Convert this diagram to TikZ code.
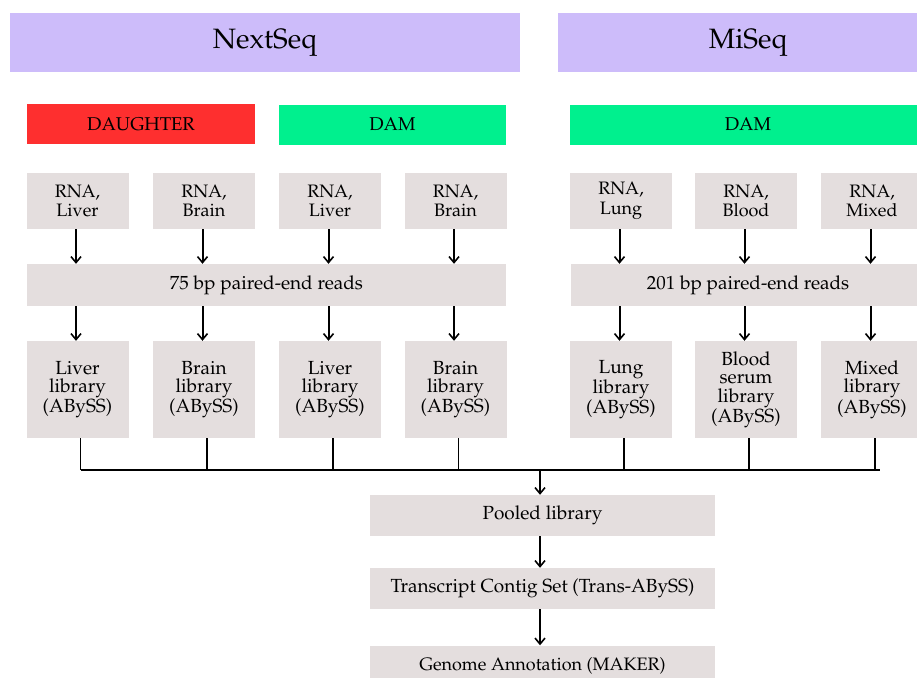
\documentclass[tikz,border=0pt]{standalone}
\usepackage[T1]{fontenc}
\usepackage{mathpazo}
\usetikzlibrary{arrows.meta}
\definecolor{hdr}{HTML}{CDBCFA}
\definecolor{redbox}{HTML}{FE2F2F}
\definecolor{greenbox}{HTML}{00F08E}
\definecolor{graybox}{HTML}{E4DEDE}
\tikzset{
  box/.style={fill=graybox, draw=none, inner sep=0pt, align=center, text=black},
  hdrbox/.style={fill=hdr, draw=none, inner sep=0pt, minimum height=59, font=\fontsize{28}{32}\selectfont},
  grpbox/.style={draw=none, inner sep=0pt, minimum height=40, font=\fontsize{18.5}{20}\selectfont},
  rnabox/.style={box, minimum width=102, minimum height=56, font=\fontsize{18}{19.5}\selectfont},
  libbox/.style={box, minimum width=102, minimum height=97, font=\fontsize{19}{18.5}\selectfont},
  readbox/.style={box, minimum height=42, font=\fontsize{19}{20}\selectfont},
  stagebox/.style={box, minimum width=345, minimum height=41, font=\fontsize{19}{20}\selectfont},
  arr/.style={line width=2pt, -{Straight Barb[length=6pt,width=10pt,line width=1.6pt]}},
  joinline/.style={line width=1.6pt},
  barline/.style={line width=2.5pt}
}
\begin{document}
\begin{tikzpicture}[x=1pt,y=-1pt]
\useasboundingbox (0,0) rectangle (917,677);
\clip (0,0) rectangle (917,677);
\fill[white] (0,0) rectangle (917,677);
% headers
\node[hdrbox, minimum width=510] (nextseq) at (265,42.5) {NextSeq};
\node[hdrbox, minimum width=380] (miseq) at (748,42.5) {MiSeq};
\node[grpbox, fill=redbox, minimum width=228] (daughter) at (141,124) {DAUGHTER};
\node[grpbox, fill=greenbox, minimum width=227] (damL) at (392.5,124.5) {DAM};
\node[grpbox, fill=greenbox, minimum width=356] (damR) at (748,124.5) {DAM};
% RNA boxes
\node[rnabox] (r1) at (77.5,201) {RNA,\\Liver};
\node[rnabox] (r2) at (204,201) {RNA,\\Brain};
\node[rnabox] (r3) at (330,201) {RNA,\\Liver};
\node[rnabox] (r4) at (455.5,201) {RNA,\\Brain};
\node[rnabox] (r5) at (621,201) {RNA,\\Lung};
\node[rnabox] (r6) at (746,201) {RNA,\\Blood};
\node[rnabox] (r7) at (872,201) {RNA,\\Mixed};
% reads
\node[readbox, minimum width=479] (readsL) at (266.5,285) {75 bp paired-end reads};
\node[readbox, minimum width=354] (readsR) at (748,285) {201 bp paired-end reads};
% libraries
\node[libbox] (l1) at (77.5,389.5) {Liver\\library\\(ABySS)};
\node[libbox] (l2) at (204,389.5) {Brain\\library\\(ABySS)};
\node[libbox] (l3) at (330,389.5) {Liver\\library\\(ABySS)};
\node[libbox] (l4) at (455.5,389.5) {Brain\\library\\(ABySS)};
\node[libbox] (l5) at (621,389.5) {Lung\\library\\(ABySS)};
\node[libbox] (l6) at (746,389.5) {Blood\\serum\\library\\(ABySS)};
\node[libbox] (l7) at (872,389.5) {Mixed\\library\\(ABySS)};
% pipeline
\node[stagebox] (pooled) at (542.5,515.5) {Pooled library};
\node[stagebox] (contig) at (542.5,588.5) {Transcript Contig Set (Trans-ABySS)};
\node[stagebox, font=\fontsize{18}{20}\selectfont] (annot) at (542.5,666) {Genome Annotation (MAKER)};
% arrows RNA -> reads -> libraries
\foreach \i in {1,2,3,4}{
  \draw[arr] ([xshift=-1.5pt]r\i.south) -- ([xshift=-1.5pt]r\i.south |- readsL.north);
  \draw[arr] ([xshift=-1.5pt]readsL.south -| r\i.south) -- ([xshift=-1.5pt]l\i.north);
}
\foreach \i in {5,6,7}{
  \draw[arr] ([xshift=-1.5pt]r\i.south) -- ([xshift=-1.5pt]r\i.south |- readsR.north);
  \draw[arr] ([xshift=-1.5pt]readsR.south -| r\i.south) -- ([xshift=-1.5pt]l\i.north);
}
% join bar
\coordinate (barL) at (80.5,470);
\coordinate (barR) at (880,470);
\coordinate (barM) at (540,470);
\foreach \i in {1,...,7}{
  \draw[joinline] ([xshift=3pt]l\i.south) -- ([xshift=3pt]l\i.south |- barL);
}
\draw[barline] (barL) -- (barR);
\draw[arr] (barM) -- (barM |- pooled.north);
\draw[arr] (barM |- pooled.south) -- (barM |- contig.north);
\draw[arr] (barM |- contig.south) -- (barM |- annot.north);
\end{tikzpicture}
\end{document}
